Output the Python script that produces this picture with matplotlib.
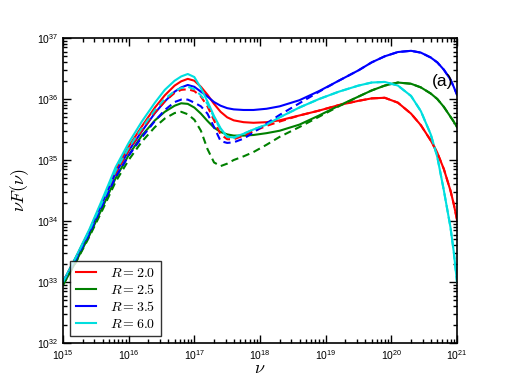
import numpy as np
import matplotlib
matplotlib.use("Agg")
import matplotlib.pyplot as plt
from matplotlib.ticker import FixedLocator, LogLocator, LogFormatterSciNotation

plt.rcParams['font.family'] = ['Liberation Sans', 'DejaVu Sans']
plt.rcParams['mathtext.fontset'] = 'cm'

# log10(nu) grid
log_nu = [15.0, 15.2, 15.4, 15.6, 15.8, 16.0, 16.2, 16.4, 16.55, 16.7, 16.8, 16.9,
          17.0, 17.1, 17.2, 17.3, 17.4, 17.5, 17.6, 17.75, 17.9, 18.1, 18.3, 18.6,
          18.9, 19.2, 19.5, 19.7, 19.9, 20.1, 20.3, 20.45, 20.6, 20.7, 20.8, 20.9,
          20.95, 21.0]

# log10(nu F(nu)) solid curves
red_solid = [33.0, 33.41, 33.84, 34.33, 34.83, 35.22, 35.55, 35.86, 36.06, 36.22, 36.29, 36.33,
             36.3, 36.2, 36.07, 35.92, 35.79, 35.7, 35.65, 35.62, 35.61, 35.62, 35.65, 35.73,
             35.81, 35.9, 35.97, 36.01, 36.02, 35.94, 35.76, 35.57, 35.32, 35.12, 34.85, 34.5,
             34.28, 34.02]
green_solid = [32.95, 33.34, 33.76, 34.22, 34.7, 35.08, 35.4, 35.65, 35.79, 35.89, 35.93, 35.92,
               35.86, 35.76, 35.64, 35.53, 35.46, 35.42, 35.4, 35.4, 35.41, 35.44, 35.48, 35.58,
               35.73, 35.89, 36.04, 36.14, 36.22, 36.27, 36.25, 36.19, 36.09, 36.0, 35.87, 35.71,
               35.63, 35.54]
blue_solid = [33.0, 33.4, 33.82, 34.3, 34.78, 35.15, 35.47, 35.77, 35.96, 36.12, 36.19, 36.23,
              36.2, 36.12, 36.04, 35.95, 35.89, 35.85, 35.83, 35.82, 35.82, 35.84, 35.88, 35.98,
              36.13, 36.3, 36.47, 36.6, 36.7, 36.77, 36.79, 36.76, 36.68, 36.6, 36.48, 36.32,
              36.2, 36.07]
cyan_solid = [33.0, 33.42, 33.86, 34.36, 34.88, 35.28, 35.63, 35.94, 36.15, 36.3, 36.37, 36.41,
              36.36, 36.18, 35.96, 35.72, 35.52, 35.38, 35.37, 35.43, 35.5, 35.58, 35.7, 35.86,
              36.0, 36.12, 36.22, 36.27, 36.28, 36.22, 36.05, 35.8, 35.42, 35.05, 34.5, 33.9,
              33.5, 33.0]

# log10(nu F(nu)) dashed curves
red_dashed = [33.0, 33.4, 33.82, 34.3, 34.78, 35.16, 35.48, 35.78, 35.96, 36.1, 36.15, 36.16,
              36.13, 36.04, 35.88, 35.65, 35.42, 35.34, 35.34, 35.4, 35.47, 35.56, 35.63, 35.73,
              35.81, 35.9, 35.97, 36.01, 36.02, 35.94, 35.76, 35.57, 35.32, 35.12, 34.85, 34.5,
              34.28, 34.02]
green_dashed = [32.95, 33.33, 33.74, 34.18, 34.64, 35.0, 35.3, 35.54, 35.68, 35.77, 35.79, 35.75,
                35.66, 35.48, 35.18, 34.96, 34.9, 34.94, 35.0, 35.06, 35.13, 35.25, 35.38, 35.54,
                35.71, 35.88, 36.04, 36.14, 36.22, 36.27, 36.25, 36.19, 36.09, 36.0, 35.87, 35.71,
                35.63, 35.54]
blue_dashed = [33.0, 33.38, 33.79, 34.26, 34.72, 35.07, 35.37, 35.64, 35.82, 35.95, 35.99, 35.99,
               35.94, 35.88, 35.76, 35.54, 35.31, 35.28, 35.29, 35.35, 35.45, 35.6, 35.74, 35.93,
               36.12, 36.3, 36.47, 36.6, 36.7, 36.77, 36.79, 36.76, 36.68, 36.6, 36.48, 36.32,
               36.2, 36.07]
cyan_dashed = [33.0, 33.41, 33.84, 34.32, 34.82, 35.2, 35.52, 35.82, 36.0, 36.13, 36.18, 36.2,
               36.16, 36.06, 35.92, 35.7, 35.5, 35.38, 35.36, 35.43, 35.5, 35.58, 35.7, 35.86,
               36.0, 36.12, 36.22, 36.27, 36.28, 36.22, 36.05, 35.8, 35.42, 35.05, 34.5, 33.9,
               33.5, 33.0]

labels = [r'$R=2.0$', r'$R=2.5$', r'$R=3.5$', r'$R=6.0$']
colors = ['#ff0000', '#008000', '#0000ff', '#00dede']

x_major = [1e15, 1e16, 1e17, 1e18, 1e19, 1e20, 1e21]
y_major = [1e32, 1e33, 1e34, 1e35, 1e36, 1e37]

fig = plt.figure(figsize=(5.09, 3.82), dpi=100)
ax = fig.add_axes([63/509, 39/382, 394/509, 305/382])

nu = 10.0 ** np.array(log_nu)
solids = [red_solid, green_solid, blue_solid, cyan_solid]
dashes = [red_dashed, green_dashed, blue_dashed, cyan_dashed]
for ys, c, lab in zip(solids, colors, labels):
    ax.plot(nu, 10.0 ** np.array(ys), color=c, lw=1.5, label=lab)
for ys, c in zip(dashes, colors):
    ax.plot(nu, 10.0 ** np.array(ys), color=c, lw=1.5, ls=(0, (3.5, 2.2)))

ax.set_xscale('log')
ax.set_yscale('log')
ax.set_xlim(1e15, 1e21)
ax.set_ylim(1e32, 1e37)

ax.xaxis.set_major_locator(FixedLocator(x_major))
ax.yaxis.set_major_locator(FixedLocator(y_major))
ax.xaxis.set_major_formatter(LogFormatterSciNotation())
ax.yaxis.set_major_formatter(LogFormatterSciNotation())
ax.xaxis.set_minor_locator(LogLocator(base=10, subs=np.arange(2, 10), numticks=20))
ax.yaxis.set_minor_locator(LogLocator(base=10, subs=np.arange(2, 10), numticks=20))
ax.xaxis.set_minor_formatter(matplotlib.ticker.NullFormatter())
ax.yaxis.set_minor_formatter(matplotlib.ticker.NullFormatter())

ax.tick_params(which='both', direction='in', top=True, right=True, labelsize=7.5, width=1)
ax.tick_params(which='major', length=6)
ax.tick_params(which='minor', length=3)
for s in ax.spines.values():
    s.set_linewidth(1.2)

ax.set_xlabel(r'$\nu$', fontsize=13, labelpad=-1)
ax.set_ylabel(r'$\nu F(\nu)$', fontsize=13, labelpad=4)

ax.text(0.937, 0.857, '(a)', transform=ax.transAxes, fontsize=12.5, ha='left', va='center')

leg = ax.legend(loc='lower left', fontsize=10, frameon=True, fancybox=False,
                borderaxespad=0.5, handlelength=1.5, handletextpad=1.0,
                labelspacing=0.2, borderpad=0.4)
leg.get_frame().set_edgecolor('black')
leg.get_frame().set_linewidth(1.0)

fig.savefig('out.png', dpi=100)
